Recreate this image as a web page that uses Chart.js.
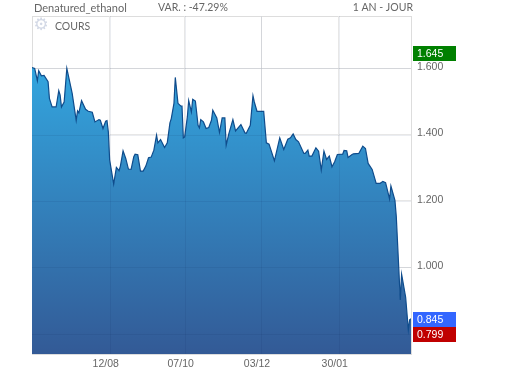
<!DOCTYPE html>
<html>
<head>
<meta charset="utf-8">
<title>Denatured_ethanol</title>
<script src="https://cdn.jsdelivr.net/npm/chart.js@4"></script>
<style>
  html, body { margin: 0; padding: 0; background: #fff; }
  canvas { display: block; }
</style>
</head>
<body>
<canvas id="chart" width="506" height="374"></canvas>
<script>
// jours depuis le debut de la fenetre, et cours
const xDays = [0, 2, 4, 5, 7, 9, 12, 13, 15, 18, 20, 21, 22, 24, 26, 30, 33, 34, 35, 37,
  40, 42, 45, 47, 50, 51, 53, 55, 56, 57, 58, 61, 63, 65, 66, 68, 70, 72, 74, 76,
  77, 79, 81, 83, 85, 87, 89, 91, 93, 94, 96, 99, 101, 103, 104, 106, 107, 109, 111, 112,
  113, 114, 116, 117, 119, 120, 122, 124, 125, 126, 128, 130, 132, 134, 135, 138, 140, 142, 144, 145,
  147, 150, 152, 156, 159, 160, 163, 165, 166, 168, 173, 175, 177, 181, 185, 188, 191, 193, 195, 197,
  199, 203, 204, 206, 207, 209, 212, 214, 216, 218, 220, 222, 224, 226, 228, 232, 233, 235, 236, 239,
  240, 244, 247, 249, 251, 254, 257, 260, 262, 264, 267, 268, 271, 272, 275, 276, 279, 281, 282, 283];
const prices = [1.602, 1.599, 1.562, 1.592, 1.577, 1.578, 1.559, 1.509, 1.483, 1.483, 1.532, 1.519, 1.483, 1.498, 1.599, 1.524, 1.443, 1.471, 1.465, 1.502,
  1.476, 1.470, 1.467, 1.438, 1.445, 1.443, 1.418, 1.440, 1.442, 1.408, 1.323, 1.251, 1.301, 1.291, 1.305, 1.351, 1.328, 1.296, 1.295, 1.333,
  1.341, 1.339, 1.290, 1.290, 1.305, 1.330, 1.332, 1.353, 1.398, 1.375, 1.385, 1.361, 1.375, 1.435, 1.448, 1.494, 1.572, 1.494, 1.486, 1.486,
  1.390, 1.393, 1.453, 1.502, 1.468, 1.506, 1.501, 1.428, 1.420, 1.445, 1.438, 1.418, 1.421, 1.443, 1.473, 1.450, 1.406, 1.450, 1.450, 1.368,
  1.403, 1.445, 1.411, 1.430, 1.405, 1.404, 1.428, 1.517, 1.498, 1.470, 1.470, 1.375, 1.371, 1.321, 1.390, 1.355, 1.386, 1.390, 1.402, 1.385,
  1.378, 1.343, 1.343, 1.353, 1.335, 1.335, 1.360, 1.350, 1.293, 1.350, 1.325, 1.335, 1.303, 1.318, 1.340, 1.341, 1.352, 1.351, 1.331, 1.340,
  1.342, 1.343, 1.365, 1.358, 1.313, 1.295, 1.253, 1.253, 1.259, 1.255, 1.206, 1.245, 1.202, 1.154, 0.902, 0.979, 0.910, 0.812, 0.842, 0.845];

const xTickDays = [58, 114, 171, 229];
const xTickLabels = ['12/08', '07/10', '03/12', '30/01'];
const yTicks = [1.6, 1.4, 1.2, 1.0, 0.8];

const highValue = 1.645;
const lastValue = 0.845;
const lowValue = 0.799;

const GRID = '#e7e7e7';
const FRAME = '#dddddd';
const TEXT = '#666666';
const HEAD_FONT = '10.5px Lato';

// cadre, grille discrete sur l'aire, puis etiquettes de cours et en-tetes
const decorations = {
  id: 'decorations',
  beforeDraw(chart) {
    const { ctx, chartArea: a } = chart;
    ctx.save();
    ctx.strokeStyle = FRAME;
    ctx.lineWidth = 1;
    ctx.strokeRect(a.left + 0.5, a.top + 0.5, a.width, a.height);
    ctx.restore();
  },
  afterDatasetsDraw(chart) {
    const { ctx, chartArea: a, scales } = chart;
    ctx.save();
    ctx.strokeStyle = 'rgba(0,30,80,0.08)';
    ctx.lineWidth = 1;
    ctx.beginPath();
    scales.x.ticks.forEach((tick) => {
      const x = Math.round(scales.x.getPixelForValue(tick.value)) + 0.5;
      ctx.moveTo(x, a.top);
      ctx.lineTo(x, a.bottom);
    });
    scales.y.ticks.forEach((tick) => {
      const y = Math.round(scales.y.getPixelForValue(tick.value)) + 0.5;
      ctx.moveTo(a.left, y);
      ctx.lineTo(a.right, y);
    });
    ctx.stroke();
    ctx.restore();
  },
  afterDraw(chart) {
    const { ctx, scales } = chart;
    const tag = (value, color) => {
      const y = Math.round(scales.y.getPixelForValue(value));
      ctx.fillStyle = color;
      ctx.fillRect(413, y - 7, 43, 15);
      ctx.fillStyle = '#ffffff';
      ctx.font = '10.5px "Liberation Sans"';
      ctx.textAlign = 'left';
      ctx.textBaseline = 'middle';
      ctx.fillText(value.toFixed(3), 417, y + 1);
    };
    ctx.save();
    tag(highValue, '#008000');
    tag(lowValue, '#c00000');
    tag(lastValue, '#3366ff');

    ctx.fillStyle = TEXT;
    ctx.textBaseline = 'middle';
    ctx.textAlign = 'left';
    ctx.font = '11px Lato';
    ctx.fillText('Denatured_ethanol', 34, 8);
    ctx.font = HEAD_FONT;
    ctx.fillText('VAR. : -47.29%', 158, 8);
    ctx.fillText('COURS', 55, 27);
    ctx.textAlign = 'right';
    ctx.fillText('1 AN - JOUR', 413, 8);

    ctx.fillStyle = '#d3d9e6';
    ctx.font = '17px "DejaVu Sans"';
    ctx.textAlign = 'center';
    ctx.fillText('\u2699', 41, 26);
    ctx.restore();
  }
};

new Chart(document.getElementById('chart'), {
  type: 'line',
  data: {
    datasets: [{
      data: xDays.map((day, i) => ({ x: day, y: prices[i] })),
      borderColor: '#0f4c8c',
      borderWidth: 1.2,
      pointRadius: 0,
      tension: 0,
      fill: 'start',
      backgroundColor(context) {
        const area = context.chart.chartArea;
        if (!area) return '#307fba';
        const gradient = context.chart.ctx.createLinearGradient(0, 50, 0, area.bottom);
        gradient.addColorStop(0, '#33aae3');
        gradient.addColorStop(1, '#335a96');
        return gradient;
      }
    }]
  },
  options: {
    responsive: false,
    animation: false,
    layout: { padding: { left: 32, top: 16 } },
    plugins: { legend: { display: false }, tooltip: { enabled: false } },
    scales: {
      x: {
        type: 'linear',
        min: 0,
        max: 283,
        afterBuildTicks(axis) { axis.ticks = xTickDays.map((value) => ({ value })); },
        afterFit(axis) { axis.height = 20; },
        grid: { color: GRID, drawTicks: false },
        border: { display: false },
        ticks: {
          color: TEXT,
          font: { family: 'Liberation Sans', size: 10.5 },
          maxRotation: 0,
          autoSkip: false,
          padding: 4,
          labelOffset: -4,
          callback: (value) => xTickLabels[xTickDays.indexOf(value)]
        }
      },
      y: {
        position: 'right',
        min: 0.739,
        max: 1.757,
        afterBuildTicks(axis) { axis.ticks = yTicks.map((value) => ({ value })); },
        afterFit(axis) { axis.width = 95; },
        grid: { color: GRID, drawTicks: false },
        border: { display: false },
        ticks: {
          color: TEXT,
          font: { family: 'Liberation Sans', size: 10.5 },
          padding: 6,
          labelOffset: -1,
          autoSkip: false,
          callback: (value) => value.toFixed(3)
        }
      }
    }
  },
  plugins: [decorations]
});
</script>
</body>
</html>
